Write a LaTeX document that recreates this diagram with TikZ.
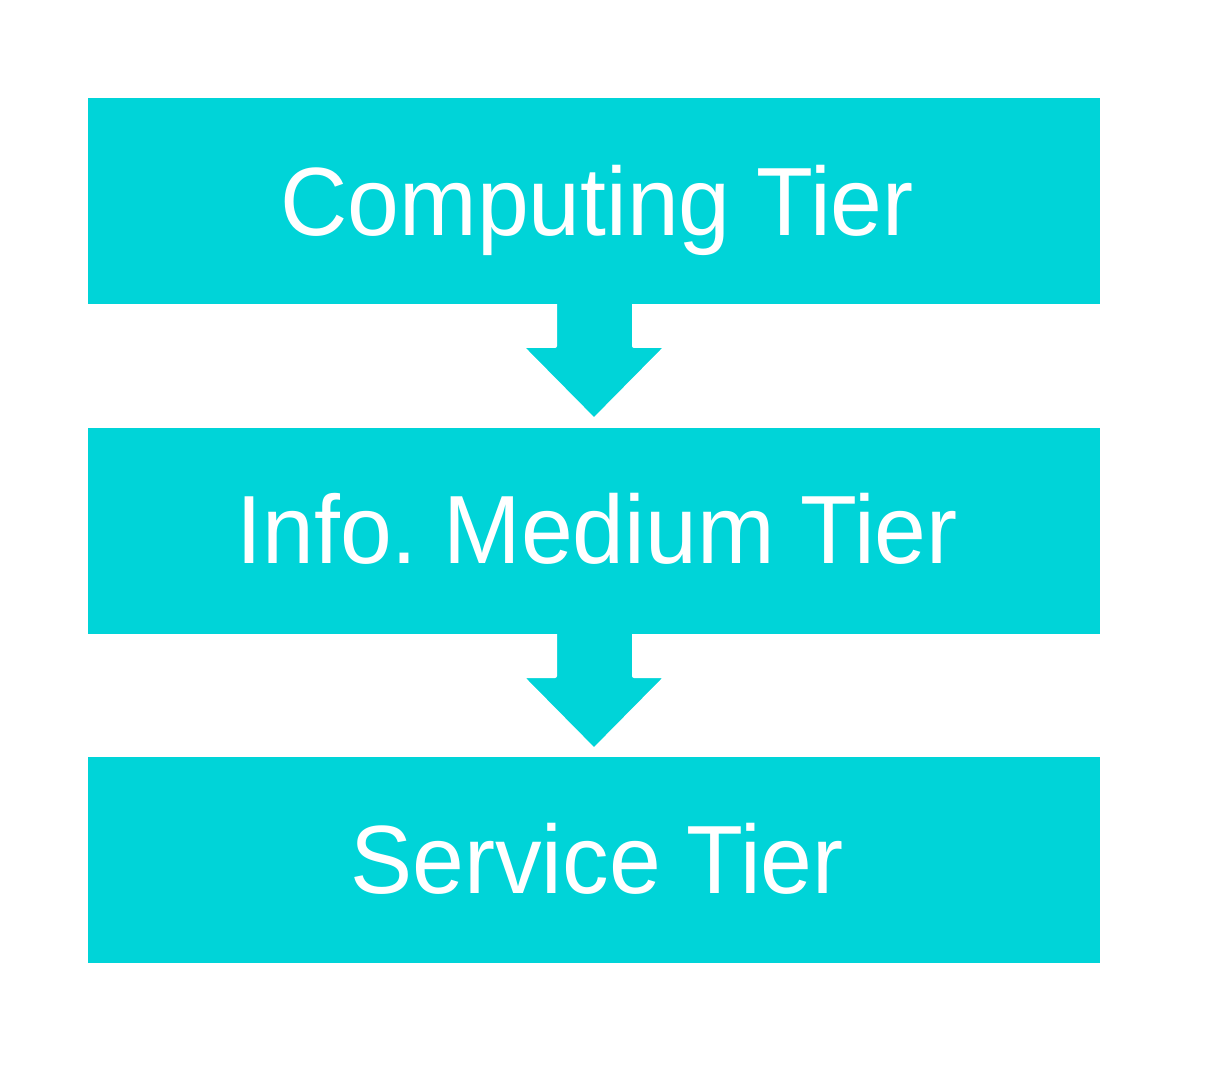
\documentclass[tikz,border=0pt]{standalone}
\usepackage{fontspec}
\setmainfont{Liberation Sans}
\definecolor{tiercyan}{HTML}{00D4D8}
\begin{document}
\begin{tikzpicture}[x=1pt,y=1pt,
  tierbox/.style={fill=tiercyan,draw=none},
  tiertext/.style={text=white,font=\fontsize{97}{97}\selectfont,anchor=base,inner sep=0pt,xscale=0.96,transform shape},
  tierarrow/.style={fill=tiercyan,draw=white,line width=4pt,line join=round}]
\useasboundingbox (0,0) rectangle (1228,1088);
% box 3
\fill[tierbox] (88,125) rectangle (1100,331);
\coordinate (c3) at (597,195);
% arrow 2
\filldraw[tierarrow] (555,458) -- (555,412) -- (521,412) -- (594,338) -- (667,412) -- (634,412) -- (634,458) -- cycle;
% box 2
\fill[tierbox] (88,454) rectangle (1100,660);
\coordinate (c2) at (597,524);
% arrow 1
\filldraw[tierarrow] (555,788) -- (555,742) -- (521,742) -- (594,668) -- (667,742) -- (634,742) -- (634,788) -- cycle;
% box 1
\fill[tierbox] (88,784) rectangle (1100,990);
\coordinate (c1) at (597,852);
\node[tiertext] (t1) at (c1) {Computing Tier};
\node[tiertext] (t2) at (c2) {Info.\ Medium Tier};
\node[tiertext] (t3) at (c3) {Service Tier};
\end{tikzpicture}
\end{document}
